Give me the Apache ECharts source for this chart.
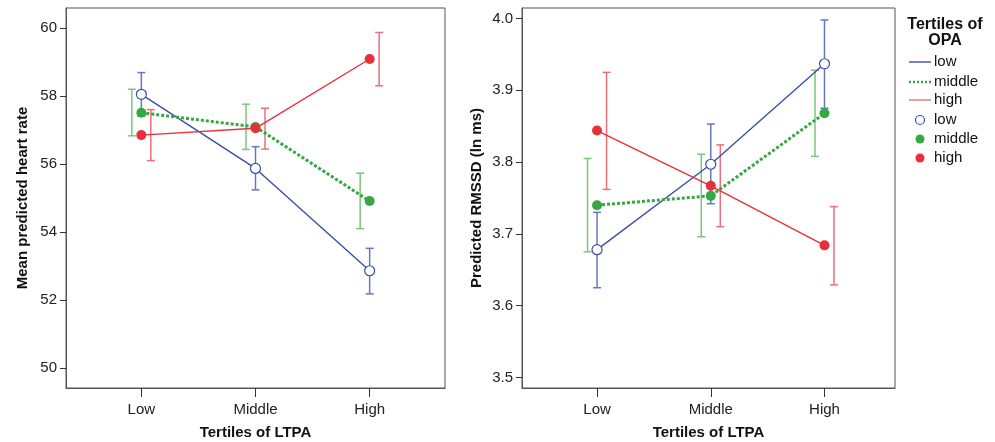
<!DOCTYPE html>
<html>
<head>
<meta charset="utf-8">
<script src="https://cdn.jsdelivr.net/npm/echarts@6/dist/echarts.min.js"></script>
<style>
  html, body { margin: 0; padding: 0; background: #fff; }
  #chart-container { width: 995px; height: 442px; }
</style>
</head>
<body>
<div id="chart-container"></div>
<script>
var categories = ['Low', 'Middle', 'High'];
var opaGroups = ['low', 'middle', 'high'];

// left panel: mean predicted heart rate
var hrLow = [58.05, 55.87, 52.86];
var hrLowCI = [[57.41, 58.69], [55.24, 56.51], [52.18, 53.52]];
var hrMiddle = [57.51, 57.09, 54.91];
var hrMiddleCI = [[56.83, 58.20], [56.43, 57.76], [54.10, 55.73]];
var hrHigh = [56.85, 57.05, 59.09];
var hrHighCI = [[56.10, 57.60], [56.44, 57.64], [58.30, 59.87]];
var hrTicks = [50, 52, 54, 56, 58, 60];

// right panel: predicted RMSSD (ln ms)
var rmLow = [3.678, 3.797, 3.937];
var rmLowCI = [[3.625, 3.730], [3.742, 3.853], [3.875, 3.998]];
var rmMiddle = [3.740, 3.753, 3.868];
var rmMiddleCI = [[3.675, 3.805], [3.696, 3.811], [3.808, 3.928]];
var rmHigh = [3.844, 3.767, 3.684];
var rmHighCI = [[3.762, 3.925], [3.710, 3.824], [3.629, 3.738]];
var rmTicks = [3.5, 3.6, 3.7, 3.8, 3.9, 4.0];

var lineColors = ['#3b4fa6', '#34a843', '#e8303b'];
var barColors = ['#6677c0', '#79c77e', '#ee6f77'];
var barOffsets = [0, -9.5, 9.5];
var font = 'Liberation Sans, Arial, sans-serif';

var dom = document.getElementById('chart-container');
var myChart = echarts.init(dom, null, { renderer: 'canvas' });

function xAxisFor(gridIndex, max) {
  return {
    type: 'value', gridIndex: gridIndex, min: 0.34, max: max,
    name: 'Tertiles of LTPA', nameLocation: 'middle', nameGap: 37,
    nameTextStyle: { fontFamily: font, fontWeight: 'bold', fontSize: 15, color: '#111' },
    axisLine: { lineStyle: { color: '#555', width: 1 } },
    axisTick: { customValues: [1, 2, 3], length: 9, lineStyle: { color: '#333' } },
    axisLabel: {
      customValues: [1, 2, 3], margin: 14, fontFamily: font, fontSize: 15, color: '#222',
      formatter: function (v) { return categories[Math.round(v) - 1]; }
    },
    splitLine: { show: false }
  };
}

function yAxisFor(gridIndex, min, max, ticks, name, gap, digits) {
  return {
    type: 'value', gridIndex: gridIndex, min: min, max: max,
    name: name, nameLocation: 'middle', nameGap: gap,
    nameTextStyle: { fontFamily: font, fontWeight: 'bold', fontSize: 15, color: '#111' },
    axisLine: { show: true, lineStyle: { color: '#555', width: 1 } },
    axisTick: { show: true, customValues: ticks, length: 6, lineStyle: { color: '#333' } },
    axisLabel: {
      customValues: ticks, margin: 9, fontFamily: font, fontSize: 15, color: '#222',
      formatter: function (v) { return v.toFixed(digits); }
    },
    splitLine: { show: false }
  };
}

function lineSeries(idx, values, k) {
  return {
    type: 'line', xAxisIndex: idx, yAxisIndex: idx, z: 3,
    data: values.map(function (v, i) { return [i + 1, v]; }),
    symbol: 'circle', symbolSize: 10,
    lineStyle: { color: lineColors[k], width: k === 1 ? 3 : 1.4, type: k === 1 ? [3, 2] : 'solid' },
    itemStyle: k === 0
      ? { color: '#fff', borderColor: lineColors[k], borderWidth: 1.2 }
      : { color: lineColors[k], borderWidth: 0 },
    emphasis: { disabled: true },
    animation: false
  };
}

function barSeries(idx, ci, k) {
  return {
    type: 'custom', xAxisIndex: idx, yAxisIndex: idx, z: 2,
    data: ci.map(function (c, i) { return [i + 1, c[0], c[1]]; }),
    renderItem: function (params, api) {
      var lo = api.coord([api.value(0), api.value(1)]);
      var hi = api.coord([api.value(0), api.value(2)]);
      var x = lo[0] + barOffsets[k];
      var st = { stroke: barColors[k], lineWidth: 1.5 };
      return {
        type: 'group',
        children: [
          { type: 'line', shape: { x1: x, y1: lo[1], x2: x, y2: hi[1] }, style: st },
          { type: 'line', shape: { x1: x - 4, y1: lo[1], x2: x + 4, y2: lo[1] }, style: st },
          { type: 'line', shape: { x1: x - 4, y1: hi[1], x2: x + 4, y2: hi[1] }, style: st }
        ]
      };
    },
    animation: false
  };
}

var series = [];
[[hrLowCI, hrMiddleCI, hrHighCI], [rmLowCI, rmMiddleCI, rmHighCI]].forEach(function (set, idx) {
  set.forEach(function (ci, k) { series.push(barSeries(idx, ci, k)); });
});
[[hrLow, hrMiddle, hrHigh], [rmLow, rmMiddle, rmHigh]].forEach(function (set, idx) {
  set.forEach(function (vals, k) { series.push(lineSeries(idx, vals, k)); });
});

// legend drawn as graphics
var legendItems = [];
var lx = 909, tx = 934;
[62, 82, 100].forEach(function (y, k) {
  legendItems.push({
    type: 'line', shape: { x1: lx, y1: y, x2: lx + 22, y2: y },
    style: { stroke: k === 1 ? lineColors[1] : (k === 0 ? lineColors[0] : barColors[2]),
             lineWidth: k === 1 ? 2.5 : 1.4, lineDash: k === 1 ? [2, 2] : null }
  });
  legendItems.push({ type: 'text', x: tx, y: y, style: { text: opaGroups[k], fontFamily: font, fontSize: 15, fill: '#111', verticalAlign: 'middle' } });
});
[120, 139, 158].forEach(function (y, k) {
  legendItems.push({
    type: 'circle', shape: { cx: 920, cy: y, r: 4.5 },
    style: k === 0 ? { fill: '#fff', stroke: lineColors[0], lineWidth: 1.2 } : { fill: lineColors[k] }
  });
  legendItems.push({ type: 'text', x: tx, y: y, style: { text: opaGroups[k], fontFamily: font, fontSize: 15, fill: '#111', verticalAlign: 'middle' } });
});
legendItems.push({
  type: 'text', x: 945, y: 33,
  style: { text: 'Tertiles of\nOPA', fontFamily: font, fontWeight: 'bold', fontSize: 16, lineHeight: 16, fill: '#111', align: 'center', verticalAlign: 'middle' }
});

var option = {
  backgroundColor: '#fff',
  grid: [
    { left: 66, top: 8, width: 379, height: 380, show: true, borderColor: '#555', borderWidth: 1, outerBoundsMode: 'none', containLabel: false },
    { left: 522, top: 8, width: 373, height: 380, show: true, borderColor: '#555', borderWidth: 1, outerBoundsMode: 'none', containLabel: false }
  ],
  xAxis: [xAxisFor(0, 3.66), xAxisFor(1, 3.62)],
  yAxis: [
    yAxisFor(0, 49.41, 60.59, hrTicks, 'Mean predicted heart rate', 36, 0),
    yAxisFor(1, 3.4853, 4.0147, rmTicks, 'Predicted RMSSD (ln ms)', 38, 1)
  ],
  graphic: legendItems,
  series: series
};

myChart.setOption(option);
window.addEventListener('resize', myChart.resize);
</script>
</body>
</html>
